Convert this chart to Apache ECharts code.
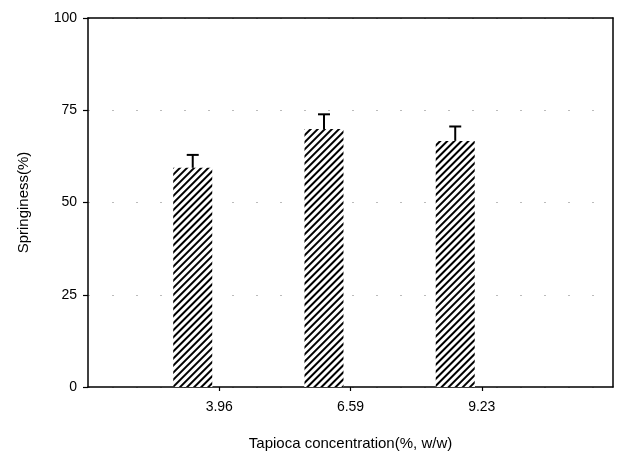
<!DOCTYPE html>
<html>
<head>
<meta charset="utf-8">
<script src="https://cdn.jsdelivr.net/npm/echarts@6/dist/echarts.min.js"></script>
<style>
html,body{margin:0;padding:0;background:#fff;}
#chart{width:624px;height:456px;}
</style>
</head>
<body>
<div id="chart"></div>
<script>
// ---- data ----
const categories = ['3.96', '6.59', '9.23'];
const springiness = [59.4, 69.9, 66.7];
const errors = [3.5, 4.0, 3.9];
const yTicks = [0, 25, 50, 75, 100];
const xName = 'Tapioca concentration(%, w/w)';
const yName = 'Springiness(%)';

// ---- styling constants ----
const FONT = "'Liberation Sans', Arial, sans-serif";
const BAR_W = 39;
const BAR_GAP = 0.36; // fraction of bar width
const axisCats = [''].concat(categories, ['']);
const barData = [null].concat(springiness, [null]);
const emptyData = axisCats.map(() => null);
const errData = categories.map((c, i) => [i + 1, springiness[i], springiness[i] + errors[i]]);
const shiftX = -(BAR_W + BAR_W * BAR_GAP) / 2;
const showIdx = function (idx) { return idx >= 1 && idx <= categories.length; };

const chart = echarts.init(document.getElementById('chart'), null, {renderer: 'canvas'});
chart.setOption({
  animation: false,
  backgroundColor: '#fff',
  textStyle: {fontFamily: FONT},
  grid: {left: 88, right: 11, top: 18, bottom: 69, show: false, containLabel: false},
  xAxis: [{
    type: 'category',
    data: axisCats,
    boundaryGap: false,
    name: xName,
    nameLocation: 'middle',
    nameGap: 49,
    nameTextStyle: {fontFamily: FONT, fontSize: 15, color: '#000'},
    axisLine: {lineStyle: {color: '#000', width: 1.5}},
    axisTick: {show: true, length: 4, lineStyle: {color: '#000', width: 1.2}, interval: showIdx},
    axisLabel: {fontFamily: FONT, fontSize: 14, color: '#000', margin: 13, interval: showIdx},
    splitLine: {show: false}
  }, {
    type: 'category',
    position: 'top',
    data: axisCats,
    boundaryGap: false,
    axisLine: {show: true, onZero: false, lineStyle: {color: '#000', width: 1.5}},
    axisTick: {show: false},
    axisLabel: {show: false},
    splitLine: {show: false}
  }],
  yAxis: [{
    type: 'value',
    min: yTicks[0],
    max: yTicks[yTicks.length - 1],
    interval: 25,
    name: yName,
    nameLocation: 'middle',
    nameGap: 57,
    nameTextStyle: {fontFamily: FONT, fontSize: 15, color: '#000'},
    axisLine: {show: true, lineStyle: {color: '#000', width: 1.5}},
    axisTick: {show: true, length: 5, lineStyle: {color: '#000', width: 1.2}},
    axisLabel: {fontFamily: FONT, fontSize: 14, color: '#000', margin: 11},
    splitLine: {show: true, lineStyle: {color: '#bbb', width: 1, type: [2, 22]}}
  }, {
    type: 'value',
    position: 'right',
    min: yTicks[0],
    max: yTicks[yTicks.length - 1],
    interval: 25,
    axisLine: {show: true, onZero: false, lineStyle: {color: '#000', width: 1.5}},
    axisTick: {show: false},
    axisLabel: {show: false},
    splitLine: {show: false}
  }],
  series: [
    {
      type: 'bar',
      data: barData,
      barWidth: BAR_W,
      barGap: (BAR_GAP * 100) + '%',
      itemStyle: {
        color: '#fff',
        decal: {color: '#000', backgroundColor: '#fff', symbol: 'rect', dashArrayX: [1, 0], dashArrayY: [2, 2.2], rotation: -Math.PI / 4}
      },
      z: 2
    },
    {
      type: 'bar',
      data: emptyData,
      barWidth: BAR_W
    },
    {
      type: 'custom',
      data: errData,
      z: 3,
      renderItem: function (params, api) {
        const base = api.coord([api.value(0), api.value(1)]);
        const top = api.coord([api.value(0), api.value(2)]);
        const x = base[0] + shiftX;
        return {
          type: 'group',
          children: [
            {type: 'line', shape: {x1: x, y1: base[1], x2: x, y2: top[1]}, style: {stroke: '#000', lineWidth: 2}},
            {type: 'line', shape: {x1: x - 6, y1: top[1], x2: x + 6, y2: top[1]}, style: {stroke: '#000', lineWidth: 2}}
          ]
        };
      }
    }
  ]
});
</script>
</body>
</html>
